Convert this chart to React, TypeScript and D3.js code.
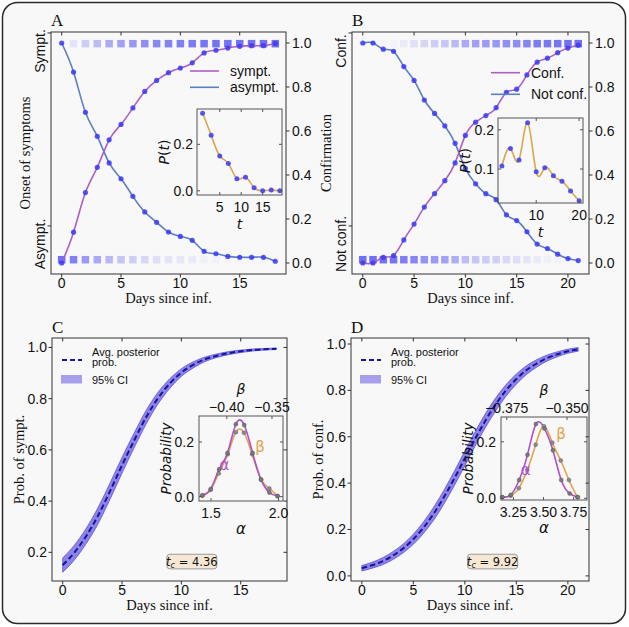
import React from 'react';
import * as d3 from 'd3';

// ---- panel A: onset of symptoms ----
const daysA = [0, 1, 2, 3, 4, 5, 6, 7, 8, 9, 10, 11, 12, 13, 14, 15, 16, 17, 18];
const symptA = [0.0, 0.14, 0.32, 0.435, 0.56, 0.63, 0.705, 0.78, 0.83, 0.865, 0.886, 0.91, 0.955, 0.967, 0.977, 0.985, 0.988, 0.988, 0.998];
const asymptA = [1.0, 0.868, 0.685, 0.576, 0.455, 0.383, 0.303, 0.232, 0.185, 0.141, 0.121, 0.103, 0.053, 0.042, 0.03, 0.026, 0.026, 0.026, 0.008];
const insetTA = [1, 3, 5, 7, 9, 11, 13, 15, 17, 19];
const insetPA = [0.334, 0.239, 0.15, 0.118, 0.052, 0.058, 0.013, 0.0, 0.003, 0.0];

// ---- panel B: confirmation ----
const daysB = [0, 1, 2, 3, 4, 5, 6, 7, 8, 9, 10, 11, 12, 13, 14, 15, 16, 17, 18, 19, 20, 21];
const confB = [0.0, 0.0, 0.026, 0.034, 0.105, 0.177, 0.254, 0.315, 0.374, 0.455, 0.58, 0.64, 0.67, 0.706, 0.776, 0.79, 0.855, 0.913, 0.931, 0.956, 0.977, 0.99];
const notConfB = [1.0, 1.0, 0.972, 0.962, 0.893, 0.83, 0.741, 0.68, 0.623, 0.544, 0.43, 0.36, 0.315, 0.288, 0.219, 0.193, 0.142, 0.086, 0.066, 0.04, 0.02, 0.011];
const insetTB = [2, 4, 6, 8, 10, 12, 14, 16, 18, 20];
const insetPB = [0.108, 0.152, 0.123, 0.218, 0.093, 0.103, 0.083, 0.069, 0.044, 0.019];

// ---- panel C: prob. of sympt. ----
const meanC = [0.15, 0.2, 0.265, 0.345, 0.44, 0.54, 0.635, 0.725, 0.8, 0.858, 0.902, 0.932, 0.954, 0.968, 0.978, 0.985, 0.99, 0.993, 0.995];
const ciHalfC = [0.028, 0.029, 0.03, 0.032, 0.032, 0.031, 0.029, 0.027, 0.023, 0.019, 0.015, 0.012, 0.009, 0.007, 0.006, 0.005, 0.004, 0.003, 0.003];
const alphaGridC = [1.436, 1.498, 1.56, 1.622, 1.684, 1.746, 1.808, 1.87, 1.932, 1.994];
const alphaProbC = [0.005, 0.028, 0.1, 0.16, 0.265, 0.262, 0.16, 0.063, 0.015, 0.002];
const betaGridC = [-0.427, -0.418, -0.409, -0.399, -0.39, -0.381, -0.372, -0.362, -0.353, -0.344];
const betaProbC = [0.003, 0.025, 0.085, 0.155, 0.236, 0.234, 0.155, 0.062, 0.03, 0.002];

// ---- panel D: prob. of conf. ----
const meanD = [0.033, 0.046, 0.063, 0.087, 0.118, 0.158, 0.209, 0.27, 0.342, 0.422, 0.507, 0.591, 0.67, 0.74, 0.8, 0.849, 0.888, 0.917, 0.94, 0.956, 0.969, 0.977];
const ciHalfD = [0.012, 0.013, 0.015, 0.017, 0.019, 0.022, 0.025, 0.028, 0.03, 0.031, 0.032, 0.031, 0.03, 0.028, 0.025, 0.022, 0.019, 0.016, 0.013, 0.011, 0.009, 0.008];
const alphaGridD = [3.158, 3.228, 3.298, 3.367, 3.437, 3.508, 3.578, 3.647, 3.717, 3.786];
const alphaProbD = [0.004, 0.012, 0.065, 0.154, 0.263, 0.247, 0.17, 0.065, 0.017, 0.004];
const betaGridD = [-0.3769, -0.3734, -0.37, -0.3665, -0.363, -0.3596, -0.3561, -0.3526, -0.3492, -0.3457];
const betaProbD = [0.004, 0.009, 0.036, 0.1, 0.19, 0.255, 0.197, 0.134, 0.065, 0.004];

// ---- ticks ----
const probTicks = [0, 0.2, 0.4, 0.6, 0.8, 1.0];
const probTicksC = [0.2, 0.4, 0.6, 0.8, 1.0];
const dayTicksA = [0, 5, 10, 15];
const dayTicksB = [0, 5, 10, 15, 20];

const SANS = "'Liberation Sans', Arial, Helvetica, sans-serif";
const SERIF = "'Liberation Serif', 'Times New Roman', serif";
const MATH = "'DejaVu Sans', sans-serif";

const AX = '#333';
const PURPLE = '#b05ec4';
const STEEL = '#5b7fbf';
const DOT = '#3a3af2';
const SQUARE = '#4d4df0';
const GOLD = '#dba64e';
const ALPHA_COL = '#b24fd0';
const BETA_COL = '#e0a44c';
const BAND = '#6556e0';
const MEAN = '#16169a';
const TICK_FS = 14;

type Box = { l: number; r: number; t: number; b: number };

const padDomain = (v: number[]) => {
  const lo = d3.min(v) as number;
  const hi = d3.max(v) as number;
  const m = (hi - lo) * 0.05;
  return [lo - m, hi + m];
};

const fmt1 = d3.format('.1f');

function Frame({ b, stroke = AX, w = 1 }: { b: Box; stroke?: string; w?: number }) {
  return <rect x={b.l} y={b.t} width={b.r - b.l} height={b.b - b.t} fill="none" stroke={stroke} strokeWidth={w} />;
}

function TopPanel(p: any) {
  const box: Box = p.box;
  const x = d3.scaleLinear().domain(padDomain(p.days)).range([box.l, box.r]);
  const y = d3.scaleLinear().domain([-0.05, 1.05]).range([box.b, box.t]);
  const yCat = d3.scaleLinear().domain([-0.249, 1.005]).range([box.b, box.t]);
  const line = d3.line<number>().x((_, i) => x(p.days[i])).y(d => y(d)).curve(d3.curveNatural);
  const sq = 7.5;
  const midY = (box.t + box.b) / 2;
  return (
    <g>
      {p.days.map((d: number, i: number) => (
        <g key={'sq' + i}>
          <rect x={x(d) - sq / 2} y={y(0.997) - sq / 2} width={sq} height={sq} fill={SQUARE} fillOpacity={p.up[i] * 0.8} />
          <rect x={x(d) - sq / 2} y={y(0.015) - sq / 2} width={sq} height={sq} fill={SQUARE} fillOpacity={p.down[i] * 0.8} />
        </g>
      ))}
      <path d={line(p.down) ?? ''} fill="none" stroke={STEEL} strokeWidth={1.6} />
      <path d={line(p.up) ?? ''} fill="none" stroke={PURPLE} strokeWidth={1.6} />
      {p.days.map((d: number, i: number) => (
        <g key={'dt' + i}>
          <circle cx={x(d)} cy={y(p.down[i])} r={2.6} fill={DOT} fillOpacity={0.85} />
          <circle cx={x(d)} cy={y(p.up[i])} r={2.6} fill={DOT} fillOpacity={0.85} />
        </g>
      ))}
      <Frame b={box} />
      {p.xTicks.map((v: number) => (
        <g key={'xt' + v}>
          <line x1={x(v)} x2={x(v)} y1={box.b} y2={box.b + 3.5} stroke={AX} />
          <line x1={x(v)} x2={x(v)} y1={box.t} y2={box.t + 3.5} stroke={AX} />
          <text x={x(v)} y={box.b + 14} textAnchor="middle" fontFamily={SANS} fontSize={TICK_FS} fill="#111">{v}</text>
        </g>
      ))}
      {probTicks.map(v => (
        <g key={'yt' + v}>
          <line x1={box.r} x2={box.r + 3.5} y1={y(v)} y2={y(v)} stroke={AX} />
          <text x={box.r + 6} y={y(v)} dy="0.35em" fontFamily={SANS} fontSize={TICK_FS} fill="#111">{fmt1(v)}</text>
        </g>
      ))}
      {[1, 0].map(v => <line key={'ct' + v} x1={box.l - 3.5} x2={box.l} y1={yCat(v)} y2={yCat(v)} stroke={AX} />)}
      <text transform={`translate(${box.l - 11},${yCat(1) + 18}) rotate(-90)`} textAnchor="middle" dy="0.35em" fontFamily={SANS} fontSize={TICK_FS} fill="#111">{p.catTop}</text>
      <text transform={`translate(${box.l - 11},${yCat(0) + 18}) rotate(-90)`} textAnchor="middle" dy="0.35em" fontFamily={SANS} fontSize={TICK_FS} fill="#111">{p.catBottom}</text>
      <text transform={`translate(${box.l - 26},${midY}) rotate(-90)`} textAnchor="middle" dy="0.35em" fontFamily={SERIF} fontSize={14.5} fill="#111">{p.yTitle}</text>
      <text x={(box.l + box.r) / 2} y={box.b + 29} textAnchor="middle" fontFamily={SERIF} fontSize={14.5} fill="#111">Days since inf.</text>
      <text x={box.l} y={box.t - 6} fontFamily={SERIF} fontSize={17} fill="#111">{p.letter}</text>
      {[p.upName, p.downName].map((name: string, i: number) => (
        <g key={'lg' + i}>
          <line x1={box.l + 139} x2={box.l + 168} y1={box.t + p.legendY[i]} y2={box.t + p.legendY[i]} stroke={i === 0 ? PURPLE : STEEL} strokeWidth={1.6} />
          <text x={box.l + 179} y={box.t + p.legendY[i]} dy="0.35em" fontFamily={SANS} fontSize={14} fill="#111">{name}</text>
        </g>
      ))}
      <InsetTop {...p.inset} />
    </g>
  );
}

function InsetTop(p: any) {
  const ib: Box = p.ib;
  const x = d3.scaleLinear().domain(p.xDom).range([ib.l, ib.r]);
  const y = d3.scaleLinear().domain(p.yDom).range([ib.b, ib.t]);
  const line = d3.line<number>().x((_, i) => x(p.t[i])).y(d => y(d)).curve(d3.curveNatural);
  return (
    <g>
      <path d={line(p.v) ?? ''} fill="none" stroke={GOLD} strokeWidth={1.6} />
      {p.v.map((d: number, i: number) => <circle key={'ip' + i} cx={x(p.t[i])} cy={y(d)} r={2.5} fill={DOT} fillOpacity={0.85} />)}
      <Frame b={ib} stroke="#555" />
      {p.xt.map((v: number) => (
        <g key={'ixt' + v}>
          <line x1={x(v)} x2={x(v)} y1={ib.b} y2={ib.b - 3} stroke="#555" />
          <line x1={x(v)} x2={x(v)} y1={ib.t} y2={ib.t + 3} stroke="#555" />
          <text x={x(v)} y={ib.b + 17} textAnchor="middle" fontFamily={SANS} fontSize={TICK_FS} fill="#111">{v}</text>
        </g>
      ))}
      {p.yt.map((v: number) => (
        <g key={'iyt' + v}>
          <line x1={ib.l} x2={ib.l + 3} y1={y(v)} y2={y(v)} stroke="#555" />
          <line x1={ib.r} x2={ib.r - 3} y1={y(v)} y2={y(v)} stroke="#555" />
          <text x={ib.l - 4} y={y(v)} dy="0.35em" textAnchor="end" fontFamily={SANS} fontSize={TICK_FS} fill="#111">{fmt1(v)}</text>
        </g>
      ))}
      <text x={(ib.l + ib.r) / 2} y={ib.b + 34} textAnchor="middle" fontFamily={MATH} fontStyle="italic" fontSize={14} fill="#111">t</text>
      <text transform={`translate(${ib.l - 33},${(ib.t + ib.b) / 2}) rotate(-90)`} textAnchor="middle" dy="0.35em" fontFamily={MATH} fontSize={14} fill="#111">
        <tspan fontStyle="italic">P</tspan>(<tspan fontStyle="italic">t</tspan>)
      </text>
    </g>
  );
}

function BottomPanel(p: any) {
  const box: Box = p.box;
  const x = d3.scaleLinear().domain(padDomain(p.days)).range([box.l, box.r]);
  const y = d3.scaleLinear().domain(p.yDom).range([box.b, box.t]);
  const area = d3.area<number>()
    .x((_, i) => x(p.days[i]))
    .y0((d, i) => y(d - p.half[i]))
    .y1((d, i) => y(d + p.half[i]))
    .curve(d3.curveMonotoneX);
  const line = d3.line<number>().x((_, i) => x(p.days[i])).y(d => y(d)).curve(d3.curveMonotoneX);
  const midY = (box.t + box.b) / 2;
  const tcX = box.l + 0.595 * (box.r - box.l);
  const tcY = box.t + 0.92 * (box.b - box.t);
  return (
    <g>
      <path d={area(p.mean) ?? ''} fill={BAND} fillOpacity={0.72} stroke="#4b3dd4" strokeOpacity={0.8} strokeWidth={0.8} />
      <path d={line(p.mean) ?? ''} fill="none" stroke={MEAN} strokeWidth={2} strokeDasharray="5.5,3" />
      <Frame b={box} />
      {p.xTicks.map((v: number) => (
        <g key={'xt' + v}>
          <line x1={x(v)} x2={x(v)} y1={box.b} y2={box.b + 3.5} stroke={AX} />
          <line x1={x(v)} x2={x(v)} y1={box.t} y2={box.t + 3.5} stroke={AX} />
          <text x={x(v)} y={box.b + 13.5} textAnchor="middle" fontFamily={SANS} fontSize={TICK_FS} fill="#111">{v}</text>
        </g>
      ))}
      {p.yTicks.map((v: number) => (
        <g key={'yt' + v}>
          <line x1={box.l - 3.5} x2={box.l} y1={y(v)} y2={y(v)} stroke={AX} />
          <line x1={box.r - 3.5} x2={box.r} y1={y(v)} y2={y(v)} stroke={AX} />
          <text x={box.l - 5} y={y(v)} dy="0.35em" textAnchor="end" fontFamily={SANS} fontSize={TICK_FS} fill="#111">{fmt1(v)}</text>
        </g>
      ))}
      <text transform={`translate(${box.l - 33},${midY}) rotate(-90)`} textAnchor="middle" dy="0.35em" fontFamily={SERIF} fontSize={14.5} fill="#111">{p.yTitle}</text>
      <text x={(box.l + box.r) / 2} y={box.b + 28.5} textAnchor="middle" fontFamily={SERIF} fontSize={14.5} fill="#111">Days since inf.</text>
      <text x={box.l} y={box.t - 5} fontFamily={SERIF} fontSize={17} fill="#111">{p.letter}</text>
      {/* legend */}
      <line x1={box.l + 10} x2={box.l + 30} y1={box.t + 22} y2={box.t + 22} stroke={MEAN} strokeWidth={2} strokeDasharray="5,3" />
      <text x={box.l + 40} y={box.t + 17.5} fontFamily={SANS} fontSize={11} fill="#111">Avg. posterior</text>
      <text x={box.l + 40} y={box.t + 28} fontFamily={SANS} fontSize={11} fill="#111">prob.</text>
      <rect x={box.l + 9} y={box.t + 37} width={21} height={8.5} fill={BAND} fillOpacity={0.55} />
      <text x={box.l + 40} y={box.t + 45.5} fontFamily={SANS} fontSize={11} fill="#111">95% CI</text>
      {/* critical time box */}
      <rect x={tcX - 25} y={tcY - 7.3} width={50} height={14.6} rx={3} fill="#f6e8d4" stroke="#9a9a9a" strokeWidth={1} />
      <text x={tcX} y={tcY} dy="0.35em" textAnchor="middle" fontFamily={MATH} fontSize={11.5} fill="#111">
        <tspan fontStyle="italic">t</tspan>
        <tspan fontStyle="italic" fontSize={8} dy={2.5}>c</tspan>
        <tspan dy={-2.5}> = {p.tc}</tspan>
      </text>
      <InsetBottom {...p.inset} />
    </g>
  );
}

function InsetBottom(p: any) {
  const ib: Box = p.ib;
  const xa = d3.scaleLinear().domain(p.aDom).range([ib.l, ib.r]);
  const xb = d3.scaleLinear().domain(p.bDom).range([ib.l, ib.r]);
  const y = d3.scaleLinear().domain(p.yDom).range([ib.b, ib.t]);
  const lineA = d3.line<number>().x((_, i) => xa(p.aGrid[i])).y(d => y(d)).curve(d3.curveNatural);
  const lineB = d3.line<number>().x((_, i) => xb(p.bGrid[i])).y(d => y(d)).curve(d3.curveNatural);
  return (
    <g>
      <path d={lineB(p.bProb) ?? ''} fill="none" stroke={BETA_COL} strokeWidth={1.6} />
      <path d={lineA(p.aProb) ?? ''} fill="none" stroke={ALPHA_COL} strokeWidth={1.6} />
      {p.bProb.map((d: number, i: number) => <circle key={'bp' + i} cx={xb(p.bGrid[i])} cy={y(d)} r={2} fill="#8c8c8c" stroke="#555" strokeWidth={0.4} />)}
      {p.aProb.map((d: number, i: number) => <circle key={'ap' + i} cx={xa(p.aGrid[i])} cy={y(d)} r={2} fill="#7a7a7a" stroke="#444" strokeWidth={0.4} />)}
      <text x={xa(p.aLab[0])} y={y(p.aLab[1])} dy="0.35em" textAnchor="middle" fontFamily={MATH} fontSize={15} fill={ALPHA_COL}>α</text>
      <text x={xb(p.bLab[0])} y={y(p.bLab[1])} dy="0.35em" textAnchor="middle" fontFamily={MATH} fontSize={15} fill={BETA_COL}>β</text>
      <Frame b={ib} stroke="#555" />
      {p.at.map((v: number, i: number) => (
        <g key={'at' + v}>
          <line x1={xa(v)} x2={xa(v)} y1={ib.b} y2={ib.b - 3} stroke="#555" />
          <text x={xa(v)} y={ib.b + 17} textAnchor="middle" fontFamily={SANS} fontSize={TICK_FS} fill="#111">{p.atl[i]}</text>
        </g>
      ))}
      {p.bt.map((v: number, i: number) => (
        <g key={'bt' + v}>
          <line x1={xb(v)} x2={xb(v)} y1={ib.t} y2={ib.t + 3} stroke="#555" />
          <text x={xb(v)} y={ib.t - 4} textAnchor="middle" fontFamily={SANS} fontSize={TICK_FS} fill="#111">{p.btl[i]}</text>
        </g>
      ))}
      {p.yt.map((v: number) => (
        <g key={'yt' + v}>
          <line x1={ib.l} x2={ib.l + 3} y1={y(v)} y2={y(v)} stroke="#555" />
          <line x1={ib.r} x2={ib.r - 3} y1={y(v)} y2={y(v)} stroke="#555" />
          <text x={ib.l - 5} y={y(v)} dy="0.35em" textAnchor="end" fontFamily={SANS} fontSize={TICK_FS} fill="#111">{fmt1(v)}</text>
        </g>
      ))}
      <text x={(ib.l + ib.r) / 2} y={ib.b + 33} textAnchor="middle" fontFamily={MATH} fontStyle="italic" fontSize={15} fill="#111">α</text>
      <text x={(ib.l + ib.r) / 2} y={ib.t - 22} textAnchor="middle" fontFamily={MATH} fontStyle="italic" fontSize={14} fill="#111">β</text>
      <text transform={`translate(${ib.l - 33},${(ib.t + ib.b) / 2}) rotate(-90)`} textAnchor="middle" dy="0.35em" fontFamily={MATH} fontStyle="italic" fontSize={13.5} fill="#111">Probability</text>
    </g>
  );
}

export default function App() {
  return (
    <svg width={629} height={627} style={{ position: 'absolute', left: 0, top: 0, background: '#fff' }}>
      <rect x={2.5} y={2.5} width={623} height={621} rx={15} fill="#f8f8f8" stroke="#2a2a2a" strokeWidth={1.5} />
      <TopPanel
        box={{ l: 51, r: 286, t: 32, b: 274 }}
        days={daysA} up={symptA} down={asymptA}
        upName="sympt." downName="asympt." catTop="Sympt." catBottom="Asympt."
        yTitle="Onset of symptoms" letter="A" xTicks={dayTicksA} legendY={[39, 55.3]}
        inset={{ ib: { l: 197, r: 282, t: 109, b: 195 }, xDom: [-0.3, 19.5], yDom: [-0.018, 0.352], t: insetTA, v: insetPA, xt: [5, 10, 15], yt: [0, 0.2] }}
      />
      <TopPanel
        box={{ l: 352, r: 589, t: 32, b: 274 }}
        days={daysB} up={confB} down={notConfB}
        upName="Conf." downName="Not conf." catTop="Conf." catBottom="Not conf."
        yTitle="Confirmation" letter="B" xTicks={dayTicksB} legendY={[40.7, 62.3]}
        inset={{ ib: { l: 498, r: 583, t: 118, b: 203 }, xDom: [1.1, 20.9], yDom: [0.0135, 0.23], t: insetTB, v: insetPB, xt: [10, 20], yt: [0.1, 0.2] }}
      />
      <BottomPanel
        box={{ l: 52, r: 287, t: 338, b: 581 }}
        days={daysA} mean={meanC} half={ciHalfC} yDom={[0.088, 1.037]} yTicks={probTicksC}
        xTicks={dayTicksA} yTitle="Prob. of sympt." letter="C" tc="4.36"
        inset={{
          ib: { l: 199, r: 283, t: 416, b: 501 }, aDom: [1.411, 2.033], bDom: [-0.4308, -0.3378], yDom: [-0.016, 0.295],
          aGrid: alphaGridC, aProb: alphaProbC, bGrid: betaGridC, bProb: betaProbC,
          at: [1.5, 2.0], atl: ['1.5', '2.0'], bt: [-0.4, -0.35], btl: ['\u22120.40', '\u22120.35'], yt: [0, 0.2],
          aLab: [1.6, 0.116], bLab: [-0.3633, 0.182],
        }}
      />
      <BottomPanel
        box={{ l: 351, r: 589, t: 338, b: 581 }}
        days={daysB} mean={meanD} half={ciHalfD} yDom={[-0.022, 1.026]} yTicks={probTicks}
        xTicks={dayTicksB} yTitle="Prob. of conf." letter="D" tc="9.92"
        inset={{
          ib: { l: 501, r: 587, t: 417, b: 500 }, aDom: [3.147, 3.861], bDom: [-0.3774, -0.3417], yDom: [-0.006, 0.288],
          aGrid: alphaGridD, aProb: alphaProbD, bGrid: betaGridD, bProb: betaProbD,
          at: [3.25, 3.5, 3.75], atl: ['3.25', '3.50', '3.75'], bt: [-0.375, -0.35], btl: ['\u22120.375', '\u22120.350'], yt: [0, 0.2],
          aLab: [3.352, 0.1], bLab: [-0.3525, 0.23],
        }}
      />
    </svg>
  );
}
